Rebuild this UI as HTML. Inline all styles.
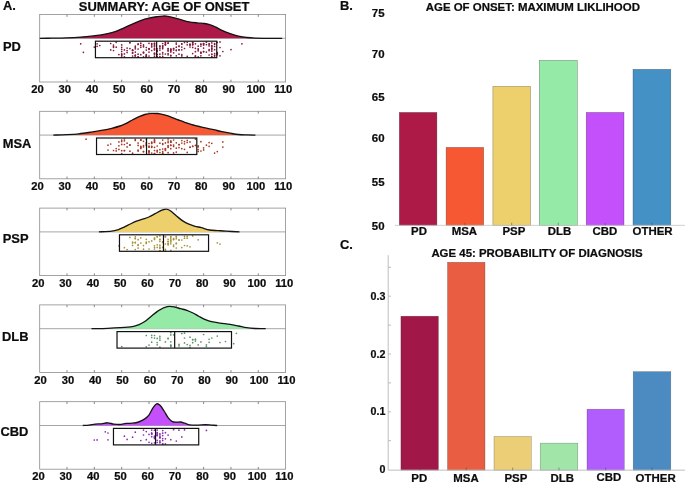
<!DOCTYPE html>
<html lang="en"><head><meta charset="utf-8"><title>Age of onset summary</title>
<style>html,body{margin:0;padding:0;background:#fff;}body{width:685px;height:484px;overflow:hidden;font-family:"Liberation Sans", sans-serif;}svg{display:block;will-change:transform;}text{font-family:"Liberation Sans", sans-serif;font-weight:bold;fill:#0c0c0c;stroke:#0c0c0c;stroke-width:0.22px;}</style></head><body>
<svg width="685" height="484" viewBox="0 0 685 484" role="img" aria-label="Age of onset summary figure">
<rect x="0" y="0" width="685" height="484" fill="#ffffff"/>
<text x="2.9" y="9.9" font-size="12.9">A.</text>
<text x="340.0" y="10.3" font-size="12.9">B.</text>
<text x="340.0" y="248.8" font-size="12.9">C.</text>
<text x="164.05" y="10.9" font-size="12.95" text-anchor="middle">SUMMARY: AGE OF ONSET</text>
<text x="532.85" y="11.0" font-size="11.45" text-anchor="middle">AGE OF ONSET: MAXIMUM LIKLIHOOD</text>
<text x="536.95" y="257.1" font-size="11.43" text-anchor="middle">AGE 45: PROBABILITY OF DIAGNOSIS</text>
<g>
<line x1="39.70" y1="38.30" x2="285.60" y2="38.30" stroke="#9c9c9c" stroke-width="0.9"/>
<path d="M39.50,38.30 C41.58,38.28 47.53,38.27 52.00,38.20 C56.47,38.13 61.51,38.08 66.30,37.90 C71.09,37.72 75.93,37.47 80.75,37.10 C85.57,36.73 90.73,36.28 95.20,35.70 C99.67,35.12 104.15,34.33 107.60,33.60 C111.05,32.87 113.15,32.27 115.90,31.30 C118.65,30.33 121.35,29.00 124.10,27.80 C126.85,26.60 129.65,25.30 132.40,24.10 C135.15,22.90 137.85,21.60 140.60,20.60 C143.35,19.60 146.15,18.75 148.90,18.10 C151.65,17.45 154.70,17.04 157.10,16.70 C159.50,16.36 161.78,16.15 163.30,16.05 C164.82,15.95 164.68,15.89 166.20,16.10 C167.72,16.31 170.00,16.72 172.40,17.30 C174.80,17.88 177.85,18.85 180.60,19.60 C183.35,20.35 186.13,21.25 188.90,21.80 C191.67,22.35 194.62,22.62 197.20,22.90 C199.78,23.18 202.33,23.20 204.40,23.50 C206.47,23.80 207.70,24.08 209.60,24.70 C211.50,25.32 213.75,26.27 215.80,27.20 C217.85,28.13 219.50,29.23 221.90,30.30 C224.30,31.37 227.43,32.63 230.20,33.60 C232.97,34.57 235.75,35.45 238.50,36.10 C241.25,36.75 243.95,37.17 246.70,37.50 C249.45,37.83 251.45,37.97 255.00,38.10 C258.55,38.23 263.47,38.27 268.00,38.30 C272.53,38.33 279.83,38.30 282.20,38.30 L282.20,38.30 L39.50,38.30 Z" fill="#ad1a48"/>
<path d="M39.50,38.30 C41.58,38.28 47.53,38.27 52.00,38.20 C56.47,38.13 61.51,38.08 66.30,37.90 C71.09,37.72 75.93,37.47 80.75,37.10 C85.57,36.73 90.73,36.28 95.20,35.70 C99.67,35.12 104.15,34.33 107.60,33.60 C111.05,32.87 113.15,32.27 115.90,31.30 C118.65,30.33 121.35,29.00 124.10,27.80 C126.85,26.60 129.65,25.30 132.40,24.10 C135.15,22.90 137.85,21.60 140.60,20.60 C143.35,19.60 146.15,18.75 148.90,18.10 C151.65,17.45 154.70,17.04 157.10,16.70 C159.50,16.36 161.78,16.15 163.30,16.05 C164.82,15.95 164.68,15.89 166.20,16.10 C167.72,16.31 170.00,16.72 172.40,17.30 C174.80,17.88 177.85,18.85 180.60,19.60 C183.35,20.35 186.13,21.25 188.90,21.80 C191.67,22.35 194.62,22.62 197.20,22.90 C199.78,23.18 202.33,23.20 204.40,23.50 C206.47,23.80 207.70,24.08 209.60,24.70 C211.50,25.32 213.75,26.27 215.80,27.20 C217.85,28.13 219.50,29.23 221.90,30.30 C224.30,31.37 227.43,32.63 230.20,33.60 C232.97,34.57 235.75,35.45 238.50,36.10 C241.25,36.75 243.95,37.17 246.70,37.50 C249.45,37.83 251.45,37.97 255.00,38.10 C258.55,38.23 263.47,38.27 268.00,38.30 C272.53,38.33 279.83,38.30 282.20,38.30" fill="none" stroke="#141414" stroke-width="1.35" stroke-linejoin="round" stroke-linecap="butt"/>
<g fill="#84183a"><circle cx="151.7" cy="43.5" r="0.85"/><circle cx="135.3" cy="52.1" r="0.85"/><circle cx="176.3" cy="55.8" r="0.85"/><circle cx="124.4" cy="53.9" r="0.85"/><circle cx="168.1" cy="53.5" r="0.85"/><circle cx="154.5" cy="49.4" r="0.85"/><circle cx="121.7" cy="44.9" r="0.85"/><circle cx="165.4" cy="54.0" r="0.85"/><circle cx="116.2" cy="47.2" r="0.85"/><circle cx="159.9" cy="54.2" r="0.85"/><circle cx="124.4" cy="56.8" r="0.85"/><circle cx="127.1" cy="48.1" r="0.85"/><circle cx="159.9" cy="48.2" r="0.85"/><circle cx="195.4" cy="56.4" r="0.85"/><circle cx="132.6" cy="53.1" r="0.85"/><circle cx="143.5" cy="44.8" r="0.85"/><circle cx="176.3" cy="44.1" r="0.85"/><circle cx="209.1" cy="44.5" r="0.85"/><circle cx="170.8" cy="55.8" r="0.85"/><circle cx="157.2" cy="54.3" r="0.85"/><circle cx="214.6" cy="44.4" r="0.85"/><circle cx="118.9" cy="54.6" r="0.85"/><circle cx="198.2" cy="56.9" r="0.85"/><circle cx="149.0" cy="52.1" r="0.85"/><circle cx="135.3" cy="47.5" r="0.85"/><circle cx="132.6" cy="50.4" r="0.85"/><circle cx="151.7" cy="44.2" r="0.85"/><circle cx="192.7" cy="42.4" r="0.85"/><circle cx="138.1" cy="56.8" r="0.85"/><circle cx="170.8" cy="51.9" r="0.85"/><circle cx="176.3" cy="50.1" r="0.85"/><circle cx="154.5" cy="56.2" r="0.85"/><circle cx="168.1" cy="48.7" r="0.85"/><circle cx="121.7" cy="55.3" r="0.85"/><circle cx="121.7" cy="54.6" r="0.85"/><circle cx="140.8" cy="45.4" r="0.85"/><circle cx="179.0" cy="46.0" r="0.85"/><circle cx="159.9" cy="46.6" r="0.85"/><circle cx="151.7" cy="45.8" r="0.85"/><circle cx="170.8" cy="51.0" r="0.85"/><circle cx="162.7" cy="46.1" r="0.85"/><circle cx="149.0" cy="48.5" r="0.85"/><circle cx="190.0" cy="44.2" r="0.85"/><circle cx="181.8" cy="55.9" r="0.85"/><circle cx="146.3" cy="47.5" r="0.85"/><circle cx="170.8" cy="49.1" r="0.85"/><circle cx="168.1" cy="51.0" r="0.85"/><circle cx="200.9" cy="55.8" r="0.85"/><circle cx="184.5" cy="48.5" r="0.85"/><circle cx="149.0" cy="56.0" r="0.85"/><circle cx="214.6" cy="49.7" r="0.85"/><circle cx="132.6" cy="50.2" r="0.85"/><circle cx="159.9" cy="50.1" r="0.85"/><circle cx="187.2" cy="42.5" r="0.85"/><circle cx="135.3" cy="48.8" r="0.85"/><circle cx="165.4" cy="44.9" r="0.85"/><circle cx="116.2" cy="42.3" r="0.85"/><circle cx="179.0" cy="54.2" r="0.85"/><circle cx="187.2" cy="44.8" r="0.85"/><circle cx="170.8" cy="49.3" r="0.85"/><circle cx="200.9" cy="53.1" r="0.85"/><circle cx="151.7" cy="50.5" r="0.85"/><circle cx="181.8" cy="47.1" r="0.85"/><circle cx="173.6" cy="50.0" r="0.85"/><circle cx="170.8" cy="50.5" r="0.85"/><circle cx="162.7" cy="54.0" r="0.85"/><circle cx="195.4" cy="43.8" r="0.85"/><circle cx="209.1" cy="50.6" r="0.85"/><circle cx="162.7" cy="45.9" r="0.85"/><circle cx="179.0" cy="46.4" r="0.85"/><circle cx="121.7" cy="53.8" r="0.85"/><circle cx="181.8" cy="49.8" r="0.85"/><circle cx="176.3" cy="50.6" r="0.85"/><circle cx="217.3" cy="53.6" r="0.85"/><circle cx="195.4" cy="55.9" r="0.85"/><circle cx="149.0" cy="48.8" r="0.85"/><circle cx="157.2" cy="51.4" r="0.85"/><circle cx="179.0" cy="49.8" r="0.85"/><circle cx="110.7" cy="49.9" r="0.85"/><circle cx="162.7" cy="52.6" r="0.85"/><circle cx="138.1" cy="49.0" r="0.85"/><circle cx="132.6" cy="50.2" r="0.85"/><circle cx="121.7" cy="49.4" r="0.85"/><circle cx="187.2" cy="56.3" r="0.85"/><circle cx="132.6" cy="52.7" r="0.85"/><circle cx="146.3" cy="55.3" r="0.85"/><circle cx="157.2" cy="56.3" r="0.85"/><circle cx="200.9" cy="46.1" r="0.85"/><circle cx="127.1" cy="50.6" r="0.85"/><circle cx="162.7" cy="56.3" r="0.85"/><circle cx="168.1" cy="54.8" r="0.85"/><circle cx="200.9" cy="44.3" r="0.85"/><circle cx="192.7" cy="44.0" r="0.85"/><circle cx="198.2" cy="48.8" r="0.85"/><circle cx="149.0" cy="43.3" r="0.85"/><circle cx="159.9" cy="45.8" r="0.85"/><circle cx="154.5" cy="43.3" r="0.85"/><circle cx="200.9" cy="52.2" r="0.85"/><circle cx="211.8" cy="54.0" r="0.85"/><circle cx="135.3" cy="55.7" r="0.85"/><circle cx="138.1" cy="44.5" r="0.85"/><circle cx="143.5" cy="52.9" r="0.85"/><circle cx="143.5" cy="52.1" r="0.85"/><circle cx="165.4" cy="44.3" r="0.85"/><circle cx="170.8" cy="55.4" r="0.85"/><circle cx="146.3" cy="56.7" r="0.85"/><circle cx="99.8" cy="45.5" r="0.85"/><circle cx="159.9" cy="56.5" r="0.85"/><circle cx="154.5" cy="48.2" r="0.85"/><circle cx="170.8" cy="49.5" r="0.85"/><circle cx="211.8" cy="57.0" r="0.85"/><circle cx="181.8" cy="54.7" r="0.85"/><circle cx="165.4" cy="44.6" r="0.85"/><circle cx="173.6" cy="48.7" r="0.85"/><circle cx="179.0" cy="49.9" r="0.85"/><circle cx="121.7" cy="47.3" r="0.85"/><circle cx="203.6" cy="45.1" r="0.85"/><circle cx="190.0" cy="47.0" r="0.85"/><circle cx="200.9" cy="53.0" r="0.85"/><circle cx="192.7" cy="42.5" r="0.85"/><circle cx="157.2" cy="50.5" r="0.85"/><circle cx="157.2" cy="48.8" r="0.85"/><circle cx="129.9" cy="42.5" r="0.85"/><circle cx="176.3" cy="47.2" r="0.85"/><circle cx="121.7" cy="51.6" r="0.85"/><circle cx="124.4" cy="49.9" r="0.85"/><circle cx="140.8" cy="43.2" r="0.85"/><circle cx="138.1" cy="57.0" r="0.85"/><circle cx="154.5" cy="54.0" r="0.85"/><circle cx="121.7" cy="56.8" r="0.85"/><circle cx="97.1" cy="43.8" r="0.85"/><circle cx="135.3" cy="46.2" r="0.85"/><circle cx="129.9" cy="42.8" r="0.85"/><circle cx="154.5" cy="53.9" r="0.85"/><circle cx="113.5" cy="46.3" r="0.85"/><circle cx="200.9" cy="44.1" r="0.85"/><circle cx="173.6" cy="48.5" r="0.85"/><circle cx="135.3" cy="55.9" r="0.85"/><circle cx="146.3" cy="54.5" r="0.85"/><circle cx="154.5" cy="46.1" r="0.85"/><circle cx="154.5" cy="44.4" r="0.85"/><circle cx="132.6" cy="56.0" r="0.85"/><circle cx="198.2" cy="50.8" r="0.85"/><circle cx="217.3" cy="52.7" r="0.85"/><circle cx="162.7" cy="43.5" r="0.85"/><circle cx="165.4" cy="43.1" r="0.85"/><circle cx="127.1" cy="52.5" r="0.85"/><circle cx="129.9" cy="48.6" r="0.85"/><circle cx="154.5" cy="43.3" r="0.85"/><circle cx="146.3" cy="56.3" r="0.85"/><circle cx="195.4" cy="51.7" r="0.85"/><circle cx="138.1" cy="54.2" r="0.85"/><circle cx="110.7" cy="43.5" r="0.85"/><circle cx="209.1" cy="55.0" r="0.85"/><circle cx="168.1" cy="43.2" r="0.85"/><circle cx="135.3" cy="55.1" r="0.85"/><circle cx="168.1" cy="49.0" r="0.85"/><circle cx="113.5" cy="47.3" r="0.85"/><circle cx="168.1" cy="50.5" r="0.85"/><circle cx="214.6" cy="56.1" r="0.85"/><circle cx="198.2" cy="46.2" r="0.85"/><circle cx="181.8" cy="44.1" r="0.85"/><circle cx="146.3" cy="50.1" r="0.85"/><circle cx="154.5" cy="45.8" r="0.85"/><circle cx="138.1" cy="43.8" r="0.85"/><circle cx="190.0" cy="44.6" r="0.85"/><circle cx="168.1" cy="43.0" r="0.85"/><circle cx="190.0" cy="45.2" r="0.85"/><circle cx="151.7" cy="46.9" r="0.85"/><circle cx="143.5" cy="46.8" r="0.85"/><circle cx="192.7" cy="53.6" r="0.85"/><circle cx="214.6" cy="46.5" r="0.85"/><circle cx="198.2" cy="49.7" r="0.85"/><circle cx="192.7" cy="44.9" r="0.85"/><circle cx="192.7" cy="47.4" r="0.85"/><circle cx="184.5" cy="42.5" r="0.85"/><circle cx="143.5" cy="46.0" r="0.85"/><circle cx="165.4" cy="42.4" r="0.85"/><circle cx="154.5" cy="53.2" r="0.85"/><circle cx="113.5" cy="50.5" r="0.85"/><circle cx="113.5" cy="45.0" r="0.85"/><circle cx="149.0" cy="49.3" r="0.85"/><circle cx="146.3" cy="56.2" r="0.85"/><circle cx="181.8" cy="43.8" r="0.85"/><circle cx="211.8" cy="54.5" r="0.85"/><circle cx="162.7" cy="48.7" r="0.85"/><circle cx="209.1" cy="49.6" r="0.85"/><circle cx="217.3" cy="54.7" r="0.85"/><circle cx="211.8" cy="48.1" r="0.85"/><circle cx="154.5" cy="49.8" r="0.85"/><circle cx="143.5" cy="52.5" r="0.85"/><circle cx="143.5" cy="56.9" r="0.85"/><circle cx="140.8" cy="47.3" r="0.85"/><circle cx="140.8" cy="54.7" r="0.85"/><circle cx="173.6" cy="52.8" r="0.85"/><circle cx="203.6" cy="51.7" r="0.85"/><circle cx="195.4" cy="48.3" r="0.85"/><circle cx="162.7" cy="47.4" r="0.85"/><circle cx="176.3" cy="43.0" r="0.85"/><circle cx="192.7" cy="44.1" r="0.85"/><circle cx="203.6" cy="51.6" r="0.85"/><circle cx="211.8" cy="48.7" r="0.85"/><circle cx="203.6" cy="43.5" r="0.85"/><circle cx="214.6" cy="55.3" r="0.85"/><circle cx="211.8" cy="51.2" r="0.85"/><circle cx="211.8" cy="42.9" r="0.85"/><circle cx="206.4" cy="44.6" r="0.85"/><circle cx="217.3" cy="42.3" r="0.85"/><circle cx="211.8" cy="56.6" r="0.85"/><circle cx="211.8" cy="45.9" r="0.85"/><circle cx="211.8" cy="45.5" r="0.85"/><circle cx="206.4" cy="42.2" r="0.85"/><circle cx="214.6" cy="43.5" r="0.85"/><circle cx="211.8" cy="49.7" r="0.85"/><circle cx="209.1" cy="45.9" r="0.85"/><circle cx="203.6" cy="43.6" r="0.85"/><circle cx="203.6" cy="44.4" r="0.85"/><circle cx="203.6" cy="48.1" r="0.85"/><circle cx="211.8" cy="46.8" r="0.85"/><circle cx="209.1" cy="43.5" r="0.85"/><circle cx="206.4" cy="52.1" r="0.85"/><circle cx="214.6" cy="53.7" r="0.85"/><circle cx="80.7" cy="43.8" r="0.85"/><circle cx="83.4" cy="52.3" r="0.85"/><circle cx="94.3" cy="47.1" r="0.85"/><circle cx="97.1" cy="46.3" r="0.85"/><circle cx="220.0" cy="41.9" r="0.85"/><circle cx="220.0" cy="47.5" r="0.85"/><circle cx="222.8" cy="51.5" r="0.85"/><circle cx="220.0" cy="55.8" r="0.85"/><circle cx="231.0" cy="49.6" r="0.85"/><circle cx="241.9" cy="43.8" r="0.85"/></g>
<rect x="95.44" y="41.20" width="121.31" height="16.50" fill="none" stroke="#111" stroke-width="1.2"/>
<line x1="156.64" y1="41.20" x2="156.64" y2="57.70" stroke="#111" stroke-width="1.2"/>
<rect x="39.70" y="14.50" width="245.90" height="67.50" fill="none" stroke="#8c8c8c" stroke-width="0.8"/>
<path d="M67.02,14.50 v2.3 M67.02,82.00 v-2.3 M94.34,14.50 v2.3 M94.34,82.00 v-2.3 M121.67,14.50 v2.3 M121.67,82.00 v-2.3 M148.99,14.50 v2.3 M148.99,82.00 v-2.3 M176.31,14.50 v2.3 M176.31,82.00 v-2.3 M203.63,14.50 v2.3 M203.63,82.00 v-2.3 M230.96,14.50 v2.3 M230.96,82.00 v-2.3 M258.28,14.50 v2.3 M258.28,82.00 v-2.3" stroke="#7a7a7a" stroke-width="0.9" fill="none"/>
<g><text transform="translate(37.40,93.10) scale(1.070,1)" font-size="10.5" text-anchor="middle">20</text><text transform="translate(64.72,93.10) scale(1.070,1)" font-size="10.5" text-anchor="middle">30</text><text transform="translate(92.04,93.10) scale(1.070,1)" font-size="10.5" text-anchor="middle">40</text><text transform="translate(119.37,93.10) scale(1.070,1)" font-size="10.5" text-anchor="middle">50</text><text transform="translate(146.69,93.10) scale(1.070,1)" font-size="10.5" text-anchor="middle">60</text><text transform="translate(174.01,93.10) scale(1.070,1)" font-size="10.5" text-anchor="middle">70</text><text transform="translate(201.33,93.10) scale(1.070,1)" font-size="10.5" text-anchor="middle">80</text><text transform="translate(228.66,93.10) scale(1.070,1)" font-size="10.5" text-anchor="middle">90</text><text transform="translate(255.98,93.10) scale(1.070,1)" font-size="10.5" text-anchor="middle">100</text><text transform="translate(283.30,93.10) scale(1.070,1)" font-size="10.5" text-anchor="middle">110</text></g>
<text x="3.00" y="51.00" font-size="12.9">PD</text>
</g>
<g>
<line x1="39.70" y1="135.10" x2="285.60" y2="135.10" stroke="#9c9c9c" stroke-width="0.9"/>
<path d="M53.30,135.10 C55.47,135.03 62.07,134.90 66.30,134.70 C70.53,134.50 74.57,134.32 78.70,133.90 C82.83,133.48 87.32,132.78 91.10,132.20 C94.88,131.62 97.97,131.05 101.40,130.40 C104.83,129.75 108.60,129.03 111.70,128.30 C114.80,127.57 117.58,126.83 120.00,126.00 C122.42,125.17 124.13,124.30 126.20,123.30 C128.27,122.30 130.33,121.07 132.40,120.00 C134.47,118.93 136.53,117.82 138.60,116.90 C140.67,115.98 142.73,115.08 144.80,114.50 C146.87,113.92 148.95,113.57 151.00,113.40 C153.05,113.23 155.60,113.43 157.10,113.50 C158.60,113.57 158.48,113.50 160.00,113.80 C161.52,114.10 164.13,114.67 166.20,115.30 C168.27,115.93 170.33,116.82 172.40,117.60 C174.47,118.38 176.53,119.22 178.60,120.00 C180.67,120.78 182.73,121.57 184.80,122.30 C186.87,123.03 188.93,123.78 191.00,124.40 C193.07,125.02 194.80,125.42 197.20,126.00 C199.60,126.58 202.65,127.28 205.40,127.90 C208.15,128.52 210.95,129.08 213.70,129.70 C216.45,130.32 219.15,131.02 221.90,131.60 C224.65,132.18 227.43,132.72 230.20,133.20 C232.97,133.68 235.75,134.22 238.50,134.50 C241.25,134.78 243.88,134.80 246.70,134.90 C249.52,135.00 253.95,135.07 255.40,135.10 L255.40,135.10 L53.30,135.10 Z" fill="#f65834"/>
<path d="M53.30,135.10 C55.47,135.03 62.07,134.90 66.30,134.70 C70.53,134.50 74.57,134.32 78.70,133.90 C82.83,133.48 87.32,132.78 91.10,132.20 C94.88,131.62 97.97,131.05 101.40,130.40 C104.83,129.75 108.60,129.03 111.70,128.30 C114.80,127.57 117.58,126.83 120.00,126.00 C122.42,125.17 124.13,124.30 126.20,123.30 C128.27,122.30 130.33,121.07 132.40,120.00 C134.47,118.93 136.53,117.82 138.60,116.90 C140.67,115.98 142.73,115.08 144.80,114.50 C146.87,113.92 148.95,113.57 151.00,113.40 C153.05,113.23 155.60,113.43 157.10,113.50 C158.60,113.57 158.48,113.50 160.00,113.80 C161.52,114.10 164.13,114.67 166.20,115.30 C168.27,115.93 170.33,116.82 172.40,117.60 C174.47,118.38 176.53,119.22 178.60,120.00 C180.67,120.78 182.73,121.57 184.80,122.30 C186.87,123.03 188.93,123.78 191.00,124.40 C193.07,125.02 194.80,125.42 197.20,126.00 C199.60,126.58 202.65,127.28 205.40,127.90 C208.15,128.52 210.95,129.08 213.70,129.70 C216.45,130.32 219.15,131.02 221.90,131.60 C224.65,132.18 227.43,132.72 230.20,133.20 C232.97,133.68 235.75,134.22 238.50,134.50 C241.25,134.78 243.88,134.80 246.70,134.90 C249.52,135.00 253.95,135.07 255.40,135.10" fill="none" stroke="#141414" stroke-width="1.35" stroke-linejoin="round" stroke-linecap="butt"/>
<g fill="#a63826"><circle cx="168.1" cy="147.3" r="0.85"/><circle cx="154.5" cy="142.1" r="0.85"/><circle cx="140.8" cy="140.2" r="0.85"/><circle cx="162.7" cy="153.0" r="0.85"/><circle cx="129.9" cy="145.2" r="0.85"/><circle cx="176.3" cy="148.2" r="0.85"/><circle cx="168.1" cy="141.1" r="0.85"/><circle cx="157.2" cy="152.0" r="0.85"/><circle cx="151.7" cy="146.3" r="0.85"/><circle cx="168.1" cy="152.7" r="0.85"/><circle cx="154.5" cy="147.3" r="0.85"/><circle cx="184.5" cy="141.6" r="0.85"/><circle cx="170.8" cy="145.2" r="0.85"/><circle cx="159.9" cy="143.2" r="0.85"/><circle cx="176.3" cy="142.8" r="0.85"/><circle cx="108.0" cy="150.1" r="0.85"/><circle cx="165.4" cy="148.8" r="0.85"/><circle cx="173.6" cy="145.1" r="0.85"/><circle cx="168.1" cy="142.6" r="0.85"/><circle cx="192.7" cy="146.2" r="0.85"/><circle cx="162.7" cy="149.0" r="0.85"/><circle cx="124.4" cy="140.8" r="0.85"/><circle cx="116.2" cy="148.6" r="0.85"/><circle cx="162.7" cy="140.1" r="0.85"/><circle cx="192.7" cy="146.5" r="0.85"/><circle cx="149.0" cy="151.2" r="0.85"/><circle cx="151.7" cy="147.3" r="0.85"/><circle cx="118.9" cy="145.8" r="0.85"/><circle cx="110.7" cy="144.0" r="0.85"/><circle cx="157.2" cy="150.4" r="0.85"/><circle cx="138.1" cy="145.4" r="0.85"/><circle cx="140.8" cy="147.2" r="0.85"/><circle cx="151.7" cy="142.7" r="0.85"/><circle cx="121.7" cy="141.6" r="0.85"/><circle cx="190.0" cy="147.3" r="0.85"/><circle cx="184.5" cy="143.8" r="0.85"/><circle cx="124.4" cy="144.5" r="0.85"/><circle cx="157.2" cy="151.1" r="0.85"/><circle cx="170.8" cy="142.0" r="0.85"/><circle cx="154.5" cy="139.3" r="0.85"/><circle cx="176.3" cy="152.1" r="0.85"/><circle cx="179.0" cy="144.7" r="0.85"/><circle cx="138.1" cy="150.2" r="0.85"/><circle cx="170.8" cy="142.2" r="0.85"/><circle cx="138.1" cy="143.1" r="0.85"/><circle cx="165.4" cy="150.3" r="0.85"/><circle cx="151.7" cy="146.5" r="0.85"/><circle cx="179.0" cy="147.6" r="0.85"/><circle cx="121.7" cy="144.4" r="0.85"/><circle cx="184.5" cy="149.3" r="0.85"/><circle cx="143.5" cy="146.9" r="0.85"/><circle cx="116.2" cy="150.9" r="0.85"/><circle cx="162.7" cy="151.7" r="0.85"/><circle cx="135.3" cy="140.4" r="0.85"/><circle cx="159.9" cy="152.5" r="0.85"/><circle cx="146.3" cy="144.8" r="0.85"/><circle cx="165.4" cy="148.7" r="0.85"/><circle cx="168.1" cy="145.5" r="0.85"/><circle cx="162.7" cy="143.7" r="0.85"/><circle cx="129.9" cy="151.2" r="0.85"/><circle cx="154.5" cy="153.5" r="0.85"/><circle cx="154.5" cy="140.9" r="0.85"/><circle cx="195.4" cy="145.4" r="0.85"/><circle cx="124.4" cy="150.5" r="0.85"/><circle cx="138.1" cy="151.1" r="0.85"/><circle cx="154.5" cy="153.5" r="0.85"/><circle cx="168.1" cy="146.3" r="0.85"/><circle cx="140.8" cy="140.1" r="0.85"/><circle cx="151.7" cy="153.0" r="0.85"/><circle cx="173.6" cy="152.9" r="0.85"/><circle cx="198.2" cy="146.9" r="0.85"/><circle cx="157.2" cy="146.0" r="0.85"/><circle cx="143.5" cy="145.7" r="0.85"/><circle cx="124.4" cy="150.7" r="0.85"/><circle cx="154.5" cy="142.4" r="0.85"/><circle cx="143.5" cy="141.3" r="0.85"/><circle cx="121.7" cy="153.6" r="0.85"/><circle cx="154.5" cy="140.6" r="0.85"/><circle cx="198.2" cy="151.4" r="0.85"/><circle cx="198.2" cy="149.5" r="0.85"/><circle cx="149.0" cy="151.7" r="0.85"/><circle cx="187.2" cy="152.4" r="0.85"/><circle cx="187.2" cy="140.3" r="0.85"/><circle cx="121.7" cy="150.7" r="0.85"/><circle cx="124.4" cy="139.0" r="0.85"/><circle cx="170.8" cy="140.9" r="0.85"/><circle cx="140.8" cy="147.5" r="0.85"/><circle cx="146.3" cy="139.6" r="0.85"/><circle cx="159.9" cy="149.7" r="0.85"/><circle cx="162.7" cy="153.4" r="0.85"/><circle cx="140.8" cy="148.4" r="0.85"/><circle cx="127.1" cy="146.9" r="0.85"/><circle cx="146.3" cy="145.6" r="0.85"/><circle cx="154.5" cy="150.5" r="0.85"/><circle cx="181.8" cy="140.5" r="0.85"/><circle cx="149.0" cy="143.5" r="0.85"/><circle cx="132.6" cy="153.2" r="0.85"/><circle cx="190.0" cy="141.9" r="0.85"/><circle cx="165.4" cy="142.9" r="0.85"/><circle cx="149.0" cy="150.9" r="0.85"/><circle cx="168.1" cy="139.0" r="0.85"/><circle cx="149.0" cy="147.1" r="0.85"/><circle cx="149.0" cy="153.9" r="0.85"/><circle cx="127.1" cy="143.2" r="0.85"/><circle cx="146.3" cy="143.7" r="0.85"/><circle cx="143.5" cy="151.6" r="0.85"/><circle cx="146.3" cy="142.6" r="0.85"/><circle cx="149.0" cy="146.9" r="0.85"/><circle cx="190.0" cy="147.2" r="0.85"/><circle cx="135.3" cy="139.4" r="0.85"/><circle cx="108.0" cy="145.2" r="0.85"/><circle cx="170.8" cy="148.7" r="0.85"/><circle cx="140.8" cy="139.8" r="0.85"/><circle cx="118.9" cy="141.9" r="0.85"/><circle cx="149.0" cy="152.3" r="0.85"/><circle cx="181.8" cy="148.7" r="0.85"/><circle cx="121.7" cy="140.2" r="0.85"/><circle cx="187.2" cy="142.4" r="0.85"/><circle cx="170.8" cy="145.4" r="0.85"/><circle cx="179.0" cy="144.6" r="0.85"/><circle cx="140.8" cy="146.4" r="0.85"/><circle cx="118.9" cy="149.4" r="0.85"/><circle cx="165.4" cy="149.8" r="0.85"/><circle cx="162.7" cy="144.4" r="0.85"/><circle cx="129.9" cy="144.9" r="0.85"/><circle cx="195.4" cy="139.1" r="0.85"/><circle cx="151.7" cy="143.4" r="0.85"/><circle cx="143.5" cy="151.7" r="0.85"/><circle cx="173.6" cy="140.0" r="0.85"/><circle cx="173.6" cy="146.4" r="0.85"/><circle cx="151.7" cy="142.0" r="0.85"/><circle cx="113.5" cy="150.5" r="0.85"/><circle cx="170.8" cy="141.9" r="0.85"/><circle cx="149.0" cy="146.0" r="0.85"/><circle cx="181.8" cy="143.0" r="0.85"/><circle cx="86.1" cy="139.2" r="0.85"/><circle cx="200.9" cy="141.7" r="0.85"/><circle cx="203.6" cy="147.8" r="0.85"/><circle cx="203.6" cy="149.9" r="0.85"/><circle cx="206.4" cy="145.2" r="0.85"/><circle cx="209.1" cy="142.6" r="0.85"/><circle cx="209.1" cy="146.3" r="0.85"/><circle cx="211.8" cy="143.3" r="0.85"/><circle cx="214.6" cy="153.1" r="0.85"/><circle cx="217.3" cy="151.6" r="0.85"/><circle cx="222.8" cy="141.9" r="0.85"/><circle cx="222.8" cy="147.1" r="0.85"/><circle cx="198.2" cy="145.8" r="0.85"/><circle cx="200.9" cy="151.0" r="0.85"/></g>
<rect x="96.53" y="138.00" width="100.27" height="16.50" fill="none" stroke="#111" stroke-width="1.2"/>
<line x1="146.53" y1="138.00" x2="146.53" y2="154.50" stroke="#111" stroke-width="1.2"/>
<rect x="39.70" y="111.30" width="245.90" height="67.50" fill="none" stroke="#8c8c8c" stroke-width="0.8"/>
<path d="M67.02,111.30 v2.3 M67.02,178.80 v-2.3 M94.34,111.30 v2.3 M94.34,178.80 v-2.3 M121.67,111.30 v2.3 M121.67,178.80 v-2.3 M148.99,111.30 v2.3 M148.99,178.80 v-2.3 M176.31,111.30 v2.3 M176.31,178.80 v-2.3 M203.63,111.30 v2.3 M203.63,178.80 v-2.3 M230.96,111.30 v2.3 M230.96,178.80 v-2.3 M258.28,111.30 v2.3 M258.28,178.80 v-2.3" stroke="#7a7a7a" stroke-width="0.9" fill="none"/>
<g><text transform="translate(37.40,189.90) scale(1.070,1)" font-size="10.5" text-anchor="middle">20</text><text transform="translate(64.72,189.90) scale(1.070,1)" font-size="10.5" text-anchor="middle">30</text><text transform="translate(92.04,189.90) scale(1.070,1)" font-size="10.5" text-anchor="middle">40</text><text transform="translate(119.37,189.90) scale(1.070,1)" font-size="10.5" text-anchor="middle">50</text><text transform="translate(146.69,189.90) scale(1.070,1)" font-size="10.5" text-anchor="middle">60</text><text transform="translate(174.01,189.90) scale(1.070,1)" font-size="10.5" text-anchor="middle">70</text><text transform="translate(201.33,189.90) scale(1.070,1)" font-size="10.5" text-anchor="middle">80</text><text transform="translate(228.66,189.90) scale(1.070,1)" font-size="10.5" text-anchor="middle">90</text><text transform="translate(255.98,189.90) scale(1.070,1)" font-size="10.5" text-anchor="middle">100</text><text transform="translate(283.30,189.90) scale(1.070,1)" font-size="10.5" text-anchor="middle">110</text></g>
<text x="2.70" y="148.35" font-size="12.9">MSA</text>
</g>
<g>
<line x1="39.70" y1="231.90" x2="285.60" y2="231.90" stroke="#9c9c9c" stroke-width="0.9"/>
<path d="M98.90,231.90 C101.03,231.78 108.53,231.55 111.70,231.20 C114.87,230.85 115.83,230.48 117.90,229.80 C119.97,229.12 122.03,228.07 124.10,227.10 C126.17,226.13 128.23,225.00 130.30,224.00 C132.37,223.00 134.43,221.92 136.50,221.10 C138.57,220.28 140.63,219.78 142.70,219.10 C144.77,218.42 146.83,217.90 148.90,217.00 C150.97,216.10 153.03,214.80 155.10,213.70 C157.17,212.60 159.73,211.12 161.30,210.40 C162.87,209.68 163.62,209.60 164.50,209.40 C165.38,209.20 165.63,208.97 166.60,209.20 C167.57,209.43 168.65,209.67 170.30,210.80 C171.95,211.93 174.43,214.32 176.50,216.00 C178.57,217.68 180.63,219.53 182.70,220.90 C184.77,222.27 186.83,223.30 188.90,224.20 C190.97,225.10 193.03,225.72 195.10,226.30 C197.17,226.88 198.88,227.08 201.30,227.70 C203.72,228.32 206.85,229.52 209.60,230.00 C212.35,230.48 215.05,230.40 217.80,230.60 C220.55,230.80 222.48,230.98 226.10,231.20 C229.72,231.42 237.27,231.78 239.50,231.90 L239.50,231.90 L98.90,231.90 Z" fill="#edcf6b"/>
<path d="M98.90,231.90 C101.03,231.78 108.53,231.55 111.70,231.20 C114.87,230.85 115.83,230.48 117.90,229.80 C119.97,229.12 122.03,228.07 124.10,227.10 C126.17,226.13 128.23,225.00 130.30,224.00 C132.37,223.00 134.43,221.92 136.50,221.10 C138.57,220.28 140.63,219.78 142.70,219.10 C144.77,218.42 146.83,217.90 148.90,217.00 C150.97,216.10 153.03,214.80 155.10,213.70 C157.17,212.60 159.73,211.12 161.30,210.40 C162.87,209.68 163.62,209.60 164.50,209.40 C165.38,209.20 165.63,208.97 166.60,209.20 C167.57,209.43 168.65,209.67 170.30,210.80 C171.95,211.93 174.43,214.32 176.50,216.00 C178.57,217.68 180.63,219.53 182.70,220.90 C184.77,222.27 186.83,223.30 188.90,224.20 C190.97,225.10 193.03,225.72 195.10,226.30 C197.17,226.88 198.88,227.08 201.30,227.70 C203.72,228.32 206.85,229.52 209.60,230.00 C212.35,230.48 215.05,230.40 217.80,230.60 C220.55,230.80 222.48,230.98 226.10,231.20 C229.72,231.42 237.27,231.78 239.50,231.90" fill="none" stroke="#141414" stroke-width="1.35" stroke-linejoin="round" stroke-linecap="butt"/>
<g fill="#a89238"><circle cx="181.8" cy="247.6" r="0.85"/><circle cx="138.1" cy="244.7" r="0.85"/><circle cx="168.1" cy="243.5" r="0.85"/><circle cx="168.1" cy="241.7" r="0.85"/><circle cx="184.5" cy="238.2" r="0.85"/><circle cx="162.7" cy="241.9" r="0.85"/><circle cx="184.5" cy="245.5" r="0.85"/><circle cx="132.6" cy="243.0" r="0.85"/><circle cx="165.4" cy="244.0" r="0.85"/><circle cx="187.2" cy="238.2" r="0.85"/><circle cx="132.6" cy="242.2" r="0.85"/><circle cx="129.9" cy="237.4" r="0.85"/><circle cx="165.4" cy="236.9" r="0.85"/><circle cx="159.9" cy="245.2" r="0.85"/><circle cx="170.8" cy="238.9" r="0.85"/><circle cx="146.3" cy="242.1" r="0.85"/><circle cx="159.9" cy="250.6" r="0.85"/><circle cx="170.8" cy="250.4" r="0.85"/><circle cx="154.5" cy="238.4" r="0.85"/><circle cx="140.8" cy="237.8" r="0.85"/><circle cx="135.3" cy="242.7" r="0.85"/><circle cx="143.5" cy="249.2" r="0.85"/><circle cx="146.3" cy="239.3" r="0.85"/><circle cx="168.1" cy="243.9" r="0.85"/><circle cx="162.7" cy="247.4" r="0.85"/><circle cx="159.9" cy="247.2" r="0.85"/><circle cx="154.5" cy="247.5" r="0.85"/><circle cx="170.8" cy="240.2" r="0.85"/><circle cx="179.0" cy="240.0" r="0.85"/><circle cx="198.2" cy="239.8" r="0.85"/><circle cx="159.9" cy="239.6" r="0.85"/><circle cx="138.1" cy="239.7" r="0.85"/><circle cx="135.3" cy="242.4" r="0.85"/><circle cx="135.3" cy="238.6" r="0.85"/><circle cx="159.9" cy="239.3" r="0.85"/><circle cx="181.8" cy="240.0" r="0.85"/><circle cx="165.4" cy="249.4" r="0.85"/><circle cx="173.6" cy="238.6" r="0.85"/><circle cx="157.2" cy="236.8" r="0.85"/><circle cx="173.6" cy="239.6" r="0.85"/><circle cx="154.5" cy="239.5" r="0.85"/><circle cx="176.3" cy="243.7" r="0.85"/><circle cx="138.1" cy="245.5" r="0.85"/><circle cx="170.8" cy="237.3" r="0.85"/><circle cx="146.3" cy="242.8" r="0.85"/><circle cx="165.4" cy="236.4" r="0.85"/><circle cx="159.9" cy="235.9" r="0.85"/><circle cx="154.5" cy="249.0" r="0.85"/><circle cx="173.6" cy="239.3" r="0.85"/><circle cx="162.7" cy="242.5" r="0.85"/><circle cx="168.1" cy="241.4" r="0.85"/><circle cx="149.0" cy="249.0" r="0.85"/><circle cx="168.1" cy="239.3" r="0.85"/><circle cx="157.2" cy="236.6" r="0.85"/><circle cx="157.2" cy="244.8" r="0.85"/><circle cx="159.9" cy="248.2" r="0.85"/><circle cx="176.3" cy="238.7" r="0.85"/><circle cx="135.3" cy="236.9" r="0.85"/><circle cx="146.3" cy="243.5" r="0.85"/><circle cx="135.3" cy="238.5" r="0.85"/><circle cx="168.1" cy="244.8" r="0.85"/><circle cx="157.2" cy="247.4" r="0.85"/><circle cx="154.5" cy="245.8" r="0.85"/><circle cx="192.7" cy="235.9" r="0.85"/><circle cx="132.6" cy="245.4" r="0.85"/><circle cx="173.6" cy="246.4" r="0.85"/><circle cx="170.8" cy="241.0" r="0.85"/><circle cx="187.2" cy="236.4" r="0.85"/><circle cx="151.7" cy="240.9" r="0.85"/><circle cx="170.8" cy="236.5" r="0.85"/><circle cx="165.4" cy="250.8" r="0.85"/><circle cx="176.3" cy="236.4" r="0.85"/><circle cx="190.0" cy="246.8" r="0.85"/><circle cx="135.3" cy="249.5" r="0.85"/><circle cx="176.3" cy="248.0" r="0.85"/><circle cx="138.1" cy="248.1" r="0.85"/><circle cx="170.8" cy="241.9" r="0.85"/><circle cx="159.9" cy="241.4" r="0.85"/><circle cx="173.6" cy="245.1" r="0.85"/><circle cx="176.3" cy="237.0" r="0.85"/><circle cx="184.5" cy="236.3" r="0.85"/><circle cx="176.3" cy="243.2" r="0.85"/><circle cx="140.8" cy="243.1" r="0.85"/><circle cx="162.7" cy="241.9" r="0.85"/><circle cx="124.4" cy="247.7" r="0.85"/><circle cx="187.2" cy="245.8" r="0.85"/><circle cx="154.5" cy="238.1" r="0.85"/><circle cx="170.8" cy="243.8" r="0.85"/><circle cx="143.5" cy="245.6" r="0.85"/><circle cx="149.0" cy="241.8" r="0.85"/><circle cx="179.0" cy="239.9" r="0.85"/><circle cx="159.9" cy="250.6" r="0.85"/><circle cx="118.9" cy="245.9" r="0.85"/><circle cx="217.3" cy="242.8" r="0.85"/><circle cx="220.0" cy="244.1" r="0.85"/><circle cx="127.1" cy="249.6" r="0.85"/></g>
<rect x="119.48" y="234.80" width="89.07" height="16.50" fill="none" stroke="#111" stroke-width="1.2"/>
<line x1="163.47" y1="234.80" x2="163.47" y2="251.30" stroke="#111" stroke-width="1.2"/>
<rect x="39.70" y="208.10" width="245.90" height="67.50" fill="none" stroke="#8c8c8c" stroke-width="0.8"/>
<path d="M67.02,208.10 v2.3 M67.02,275.60 v-2.3 M94.34,208.10 v2.3 M94.34,275.60 v-2.3 M121.67,208.10 v2.3 M121.67,275.60 v-2.3 M148.99,208.10 v2.3 M148.99,275.60 v-2.3 M176.31,208.10 v2.3 M176.31,275.60 v-2.3 M203.63,208.10 v2.3 M203.63,275.60 v-2.3 M230.96,208.10 v2.3 M230.96,275.60 v-2.3 M258.28,208.10 v2.3 M258.28,275.60 v-2.3" stroke="#7a7a7a" stroke-width="0.9" fill="none"/>
<g><text transform="translate(38.30,286.70) scale(1.070,1)" font-size="10.5" text-anchor="middle">20</text><text transform="translate(65.62,286.70) scale(1.070,1)" font-size="10.5" text-anchor="middle">30</text><text transform="translate(92.94,286.70) scale(1.070,1)" font-size="10.5" text-anchor="middle">40</text><text transform="translate(120.27,286.70) scale(1.070,1)" font-size="10.5" text-anchor="middle">50</text><text transform="translate(147.59,286.70) scale(1.070,1)" font-size="10.5" text-anchor="middle">60</text><text transform="translate(174.91,286.70) scale(1.070,1)" font-size="10.5" text-anchor="middle">70</text><text transform="translate(202.23,286.70) scale(1.070,1)" font-size="10.5" text-anchor="middle">80</text><text transform="translate(229.56,286.70) scale(1.070,1)" font-size="10.5" text-anchor="middle">90</text><text transform="translate(256.88,286.70) scale(1.070,1)" font-size="10.5" text-anchor="middle">100</text><text transform="translate(284.20,286.70) scale(1.070,1)" font-size="10.5" text-anchor="middle">110</text></g>
<text x="2.70" y="243.30" font-size="12.9">PSP</text>
</g>
<g>
<line x1="39.70" y1="328.70" x2="285.60" y2="328.70" stroke="#9c9c9c" stroke-width="0.9"/>
<path d="M91.50,328.70 C94.18,328.63 102.85,328.47 107.60,328.30 C112.35,328.13 115.87,327.98 120.00,327.70 C124.13,327.42 129.30,327.08 132.40,326.60 C135.50,326.12 136.53,325.65 138.60,324.80 C140.67,323.95 142.73,322.88 144.80,321.50 C146.87,320.12 148.95,318.15 151.00,316.50 C153.05,314.85 155.35,312.85 157.10,311.60 C158.85,310.35 160.33,309.65 161.50,309.00 C162.67,308.35 162.80,308.13 164.10,307.70 C165.40,307.27 167.57,306.52 169.30,306.40 C171.03,306.28 172.62,306.62 174.50,307.00 C176.38,307.38 178.55,308.15 180.60,308.70 C182.65,309.25 184.73,309.58 186.80,310.30 C188.87,311.02 190.93,311.97 193.00,313.00 C195.07,314.03 197.13,315.40 199.20,316.50 C201.27,317.60 203.33,318.73 205.40,319.60 C207.47,320.47 209.18,321.12 211.60,321.70 C214.02,322.28 216.80,322.65 219.90,323.10 C223.00,323.55 227.10,323.92 230.20,324.40 C233.30,324.88 235.75,325.45 238.50,326.00 C241.25,326.55 243.95,327.28 246.70,327.70 C249.45,328.12 251.83,328.33 255.00,328.50 C258.17,328.67 263.92,328.67 265.70,328.70 L265.70,328.70 L91.50,328.70 Z" fill="#94eaa6"/>
<path d="M91.50,328.70 C94.18,328.63 102.85,328.47 107.60,328.30 C112.35,328.13 115.87,327.98 120.00,327.70 C124.13,327.42 129.30,327.08 132.40,326.60 C135.50,326.12 136.53,325.65 138.60,324.80 C140.67,323.95 142.73,322.88 144.80,321.50 C146.87,320.12 148.95,318.15 151.00,316.50 C153.05,314.85 155.35,312.85 157.10,311.60 C158.85,310.35 160.33,309.65 161.50,309.00 C162.67,308.35 162.80,308.13 164.10,307.70 C165.40,307.27 167.57,306.52 169.30,306.40 C171.03,306.28 172.62,306.62 174.50,307.00 C176.38,307.38 178.55,308.15 180.60,308.70 C182.65,309.25 184.73,309.58 186.80,310.30 C188.87,311.02 190.93,311.97 193.00,313.00 C195.07,314.03 197.13,315.40 199.20,316.50 C201.27,317.60 203.33,318.73 205.40,319.60 C207.47,320.47 209.18,321.12 211.60,321.70 C214.02,322.28 216.80,322.65 219.90,323.10 C223.00,323.55 227.10,323.92 230.20,324.40 C233.30,324.88 235.75,325.45 238.50,326.00 C241.25,326.55 243.95,327.28 246.70,327.70 C249.45,328.12 251.83,328.33 255.00,328.50 C258.17,328.67 263.92,328.67 265.70,328.70" fill="none" stroke="#141414" stroke-width="1.35" stroke-linejoin="round" stroke-linecap="butt"/>
<g fill="#5c9468"><circle cx="184.5" cy="342.9" r="0.85"/><circle cx="170.8" cy="346.0" r="0.85"/><circle cx="151.7" cy="342.2" r="0.85"/><circle cx="190.0" cy="345.4" r="0.85"/><circle cx="200.9" cy="341.9" r="0.85"/><circle cx="170.8" cy="341.8" r="0.85"/><circle cx="146.3" cy="335.5" r="0.85"/><circle cx="192.7" cy="339.7" r="0.85"/><circle cx="195.4" cy="341.1" r="0.85"/><circle cx="184.5" cy="333.2" r="0.85"/><circle cx="170.8" cy="346.7" r="0.85"/><circle cx="170.8" cy="334.9" r="0.85"/><circle cx="211.8" cy="338.0" r="0.85"/><circle cx="173.6" cy="334.8" r="0.85"/><circle cx="159.9" cy="347.2" r="0.85"/><circle cx="157.2" cy="344.8" r="0.85"/><circle cx="154.5" cy="335.5" r="0.85"/><circle cx="179.0" cy="345.9" r="0.85"/><circle cx="170.8" cy="345.2" r="0.85"/><circle cx="192.7" cy="342.7" r="0.85"/><circle cx="157.2" cy="342.6" r="0.85"/><circle cx="151.7" cy="337.5" r="0.85"/><circle cx="157.2" cy="338.4" r="0.85"/><circle cx="195.4" cy="339.4" r="0.85"/><circle cx="170.8" cy="345.3" r="0.85"/><circle cx="179.0" cy="344.3" r="0.85"/><circle cx="209.1" cy="342.3" r="0.85"/><circle cx="190.0" cy="337.2" r="0.85"/><circle cx="159.9" cy="336.3" r="0.85"/><circle cx="168.1" cy="338.4" r="0.85"/><circle cx="159.9" cy="338.1" r="0.85"/><circle cx="159.9" cy="340.2" r="0.85"/><circle cx="151.7" cy="335.3" r="0.85"/><circle cx="170.8" cy="332.7" r="0.85"/><circle cx="190.0" cy="347.4" r="0.85"/><circle cx="192.7" cy="339.6" r="0.85"/><circle cx="195.4" cy="339.3" r="0.85"/><circle cx="165.4" cy="341.9" r="0.85"/><circle cx="198.2" cy="344.9" r="0.85"/><circle cx="149.0" cy="345.1" r="0.85"/><circle cx="206.4" cy="344.8" r="0.85"/><circle cx="168.1" cy="338.6" r="0.85"/><circle cx="181.8" cy="333.6" r="0.85"/><circle cx="184.5" cy="338.0" r="0.85"/><circle cx="154.5" cy="338.1" r="0.85"/><circle cx="187.2" cy="344.6" r="0.85"/><circle cx="121.7" cy="346.6" r="0.85"/><circle cx="236.4" cy="333.3" r="0.85"/><circle cx="233.7" cy="343.7" r="0.85"/><circle cx="146.3" cy="346.8" r="0.85"/><circle cx="203.6" cy="334.5" r="0.85"/><circle cx="206.4" cy="346.3" r="0.85"/><circle cx="209.1" cy="339.3" r="0.85"/><circle cx="217.3" cy="336.1" r="0.85"/><circle cx="220.0" cy="342.5" r="0.85"/><circle cx="225.5" cy="341.5" r="0.85"/></g>
<rect x="117.02" y="331.60" width="114.48" height="16.50" fill="none" stroke="#111" stroke-width="1.2"/>
<line x1="174.67" y1="331.60" x2="174.67" y2="348.10" stroke="#111" stroke-width="1.2"/>
<rect x="39.70" y="304.90" width="245.90" height="67.50" fill="none" stroke="#8c8c8c" stroke-width="0.8"/>
<path d="M67.02,304.90 v2.3 M67.02,372.40 v-2.3 M94.34,304.90 v2.3 M94.34,372.40 v-2.3 M121.67,304.90 v2.3 M121.67,372.40 v-2.3 M148.99,304.90 v2.3 M148.99,372.40 v-2.3 M176.31,304.90 v2.3 M176.31,372.40 v-2.3 M203.63,304.90 v2.3 M203.63,372.40 v-2.3 M230.96,304.90 v2.3 M230.96,372.40 v-2.3 M258.28,304.90 v2.3 M258.28,372.40 v-2.3" stroke="#7a7a7a" stroke-width="0.9" fill="none"/>
<g><text transform="translate(40.60,383.50) scale(1.070,1)" font-size="10.5" text-anchor="middle">20</text><text transform="translate(67.92,383.50) scale(1.070,1)" font-size="10.5" text-anchor="middle">30</text><text transform="translate(95.24,383.50) scale(1.070,1)" font-size="10.5" text-anchor="middle">40</text><text transform="translate(122.57,383.50) scale(1.070,1)" font-size="10.5" text-anchor="middle">50</text><text transform="translate(149.89,383.50) scale(1.070,1)" font-size="10.5" text-anchor="middle">60</text><text transform="translate(177.21,383.50) scale(1.070,1)" font-size="10.5" text-anchor="middle">70</text><text transform="translate(204.53,383.50) scale(1.070,1)" font-size="10.5" text-anchor="middle">80</text><text transform="translate(231.86,383.50) scale(1.070,1)" font-size="10.5" text-anchor="middle">90</text><text transform="translate(259.18,383.50) scale(1.070,1)" font-size="10.5" text-anchor="middle">100</text><text transform="translate(286.50,383.50) scale(1.070,1)" font-size="10.5" text-anchor="middle">110</text></g>
<text x="2.00" y="340.90" font-size="12.9">DLB</text>
</g>
<g>
<line x1="39.70" y1="425.50" x2="285.60" y2="425.50" stroke="#9c9c9c" stroke-width="0.9"/>
<path d="M82.80,425.50 C83.83,425.43 86.93,425.33 89.00,425.10 C91.07,424.87 93.13,424.32 95.20,424.10 C97.27,423.88 99.33,424.02 101.40,423.80 C103.47,423.58 105.53,422.75 107.60,422.80 C109.67,422.85 111.73,423.82 113.80,424.10 C115.87,424.38 117.93,424.62 120.00,424.50 C122.07,424.38 124.13,423.62 126.20,423.40 C128.27,423.18 130.33,423.43 132.40,423.20 C134.47,422.97 136.53,422.72 138.60,422.00 C140.67,421.28 143.08,420.03 144.80,418.90 C146.52,417.77 147.53,417.03 148.90,415.20 C150.27,413.37 151.70,409.80 153.00,407.90 C154.30,406.00 155.50,404.20 156.70,403.80 C157.90,403.40 158.97,404.30 160.20,405.50 C161.43,406.70 162.75,408.93 164.10,411.00 C165.45,413.07 166.92,416.13 168.30,417.90 C169.68,419.67 171.03,420.88 172.40,421.60 C173.77,422.32 175.13,422.13 176.50,422.20 C177.87,422.27 179.22,421.83 180.60,422.00 C181.98,422.17 183.25,422.72 184.80,423.20 C186.35,423.68 187.83,424.58 189.90,424.90 C191.97,425.22 194.62,425.13 197.20,425.10 C199.78,425.07 203.00,424.70 205.40,424.70 C207.80,424.70 209.63,424.97 211.60,425.10 C213.57,425.23 216.27,425.43 217.20,425.50 L217.20,425.50 L82.80,425.50 Z" fill="#c350fb"/>
<path d="M82.80,425.50 C83.83,425.43 86.93,425.33 89.00,425.10 C91.07,424.87 93.13,424.32 95.20,424.10 C97.27,423.88 99.33,424.02 101.40,423.80 C103.47,423.58 105.53,422.75 107.60,422.80 C109.67,422.85 111.73,423.82 113.80,424.10 C115.87,424.38 117.93,424.62 120.00,424.50 C122.07,424.38 124.13,423.62 126.20,423.40 C128.27,423.18 130.33,423.43 132.40,423.20 C134.47,422.97 136.53,422.72 138.60,422.00 C140.67,421.28 143.08,420.03 144.80,418.90 C146.52,417.77 147.53,417.03 148.90,415.20 C150.27,413.37 151.70,409.80 153.00,407.90 C154.30,406.00 155.50,404.20 156.70,403.80 C157.90,403.40 158.97,404.30 160.20,405.50 C161.43,406.70 162.75,408.93 164.10,411.00 C165.45,413.07 166.92,416.13 168.30,417.90 C169.68,419.67 171.03,420.88 172.40,421.60 C173.77,422.32 175.13,422.13 176.50,422.20 C177.87,422.27 179.22,421.83 180.60,422.00 C181.98,422.17 183.25,422.72 184.80,423.20 C186.35,423.68 187.83,424.58 189.90,424.90 C191.97,425.22 194.62,425.13 197.20,425.10 C199.78,425.07 203.00,424.70 205.40,424.70 C207.80,424.70 209.63,424.97 211.60,425.10 C213.57,425.23 216.27,425.43 217.20,425.50" fill="none" stroke="#141414" stroke-width="1.35" stroke-linejoin="round" stroke-linecap="butt"/>
<g fill="#8a2cb0"><circle cx="157.2" cy="433.4" r="0.85"/><circle cx="159.9" cy="440.9" r="0.85"/><circle cx="143.5" cy="430.1" r="0.85"/><circle cx="149.0" cy="442.3" r="0.85"/><circle cx="165.4" cy="443.9" r="0.85"/><circle cx="154.5" cy="436.2" r="0.85"/><circle cx="159.9" cy="437.2" r="0.85"/><circle cx="146.3" cy="439.7" r="0.85"/><circle cx="159.9" cy="442.8" r="0.85"/><circle cx="162.7" cy="433.2" r="0.85"/><circle cx="159.9" cy="437.4" r="0.85"/><circle cx="159.9" cy="442.2" r="0.85"/><circle cx="140.8" cy="440.5" r="0.85"/><circle cx="143.5" cy="435.0" r="0.85"/><circle cx="157.2" cy="435.0" r="0.85"/><circle cx="159.9" cy="434.9" r="0.85"/><circle cx="146.3" cy="431.6" r="0.85"/><circle cx="149.0" cy="434.4" r="0.85"/><circle cx="162.7" cy="430.6" r="0.85"/><circle cx="151.7" cy="432.9" r="0.85"/><circle cx="162.7" cy="438.6" r="0.85"/><circle cx="162.7" cy="443.8" r="0.85"/><circle cx="159.9" cy="433.8" r="0.85"/><circle cx="159.9" cy="437.1" r="0.85"/><circle cx="151.7" cy="434.1" r="0.85"/><circle cx="162.7" cy="443.9" r="0.85"/><circle cx="157.2" cy="442.5" r="0.85"/><circle cx="151.7" cy="443.3" r="0.85"/><circle cx="154.5" cy="442.8" r="0.85"/><circle cx="157.2" cy="440.4" r="0.85"/><circle cx="162.7" cy="440.6" r="0.85"/><circle cx="157.2" cy="432.7" r="0.85"/><circle cx="151.7" cy="433.8" r="0.85"/><circle cx="165.4" cy="438.8" r="0.85"/><circle cx="157.2" cy="435.7" r="0.85"/><circle cx="157.2" cy="434.9" r="0.85"/><circle cx="157.2" cy="430.1" r="0.85"/><circle cx="151.7" cy="436.7" r="0.85"/><circle cx="154.5" cy="438.6" r="0.85"/><circle cx="151.7" cy="430.1" r="0.85"/><circle cx="154.5" cy="430.2" r="0.85"/><circle cx="159.9" cy="437.9" r="0.85"/><circle cx="151.7" cy="434.0" r="0.85"/><circle cx="154.5" cy="437.2" r="0.85"/><circle cx="154.5" cy="437.4" r="0.85"/><circle cx="162.7" cy="435.6" r="0.85"/><circle cx="94.3" cy="440.0" r="0.85"/><circle cx="97.1" cy="439.9" r="0.85"/><circle cx="105.3" cy="431.8" r="0.85"/><circle cx="108.0" cy="433.0" r="0.85"/><circle cx="108.0" cy="439.8" r="0.85"/><circle cx="206.4" cy="430.4" r="0.85"/><circle cx="176.3" cy="441.1" r="0.85"/><circle cx="179.0" cy="430.2" r="0.85"/><circle cx="181.8" cy="436.9" r="0.85"/><circle cx="184.5" cy="429.9" r="0.85"/><circle cx="173.6" cy="429.7" r="0.85"/><circle cx="165.4" cy="432.7" r="0.85"/><circle cx="168.1" cy="435.1" r="0.85"/><circle cx="170.8" cy="439.7" r="0.85"/><circle cx="124.4" cy="436.2" r="0.85"/><circle cx="127.1" cy="439.4" r="0.85"/><circle cx="132.6" cy="437.2" r="0.85"/><circle cx="135.3" cy="432.2" r="0.85"/></g>
<rect x="113.47" y="428.40" width="85.25" height="16.50" fill="none" stroke="#111" stroke-width="1.2"/>
<line x1="155.55" y1="428.40" x2="155.55" y2="444.90" stroke="#111" stroke-width="1.2"/>
<rect x="39.70" y="401.70" width="245.90" height="67.50" fill="none" stroke="#8c8c8c" stroke-width="0.8"/>
<path d="M67.02,401.70 v2.3 M67.02,469.20 v-2.3 M94.34,401.70 v2.3 M94.34,469.20 v-2.3 M121.67,401.70 v2.3 M121.67,469.20 v-2.3 M148.99,401.70 v2.3 M148.99,469.20 v-2.3 M176.31,401.70 v2.3 M176.31,469.20 v-2.3 M203.63,401.70 v2.3 M203.63,469.20 v-2.3 M230.96,401.70 v2.3 M230.96,469.20 v-2.3 M258.28,401.70 v2.3 M258.28,469.20 v-2.3" stroke="#7a7a7a" stroke-width="0.9" fill="none"/>
<g><text transform="translate(38.50,480.30) scale(1.070,1)" font-size="10.5" text-anchor="middle">20</text><text transform="translate(65.82,480.30) scale(1.070,1)" font-size="10.5" text-anchor="middle">30</text><text transform="translate(93.14,480.30) scale(1.070,1)" font-size="10.5" text-anchor="middle">40</text><text transform="translate(120.47,480.30) scale(1.070,1)" font-size="10.5" text-anchor="middle">50</text><text transform="translate(147.79,480.30) scale(1.070,1)" font-size="10.5" text-anchor="middle">60</text><text transform="translate(175.11,480.30) scale(1.070,1)" font-size="10.5" text-anchor="middle">70</text><text transform="translate(202.43,480.30) scale(1.070,1)" font-size="10.5" text-anchor="middle">80</text><text transform="translate(229.76,480.30) scale(1.070,1)" font-size="10.5" text-anchor="middle">90</text><text transform="translate(257.08,480.30) scale(1.070,1)" font-size="10.5" text-anchor="middle">100</text><text transform="translate(284.40,480.30) scale(1.070,1)" font-size="10.5" text-anchor="middle">110</text></g>
<text x="0.50" y="436.30" font-size="12.9">CBD</text>
</g>
<g>
<rect x="399.30" y="112.40" width="37.60" height="112.95" fill="#ad1a48" stroke="rgba(40,40,40,0.55)" stroke-width="0.5"/>
<rect x="446.10" y="147.38" width="37.60" height="77.97" fill="#f65834" stroke="rgba(40,40,40,0.55)" stroke-width="0.5"/>
<rect x="492.90" y="86.39" width="37.60" height="138.96" fill="#edcf6b" stroke="rgba(40,40,40,0.55)" stroke-width="0.5"/>
<rect x="539.30" y="60.37" width="38.00" height="164.98" fill="#94eaa6" stroke="rgba(40,40,40,0.55)" stroke-width="0.5"/>
<rect x="586.20" y="112.40" width="37.80" height="112.95" fill="#c350fb" stroke="rgba(40,40,40,0.55)" stroke-width="0.5"/>
<rect x="633.00" y="69.33" width="37.80" height="156.02" fill="#4491c6" stroke="rgba(40,40,40,0.55)" stroke-width="0.5"/>
<line x1="394.8" y1="225.35" x2="685" y2="225.35" stroke="#c4c4c4" stroke-width="0.8"/>
<line x1="418.10" y1="225.35" x2="418.10" y2="222.75" stroke="#4a4a4a" stroke-opacity="0.7" stroke-width="0.7"/>
<text transform="translate(418.95,234.60) scale(1.070,1)" font-size="10.7" text-anchor="middle">PD</text>
<line x1="464.90" y1="225.35" x2="464.90" y2="222.75" stroke="#4a4a4a" stroke-opacity="0.7" stroke-width="0.7"/>
<text transform="translate(464.35,234.60) scale(1.070,1)" font-size="10.7" text-anchor="middle">MSA</text>
<line x1="511.70" y1="225.35" x2="511.70" y2="222.75" stroke="#4a4a4a" stroke-opacity="0.7" stroke-width="0.7"/>
<text transform="translate(513.90,234.60) scale(1.070,1)" font-size="10.7" text-anchor="middle">PSP</text>
<line x1="558.30" y1="225.35" x2="558.30" y2="222.75" stroke="#4a4a4a" stroke-opacity="0.7" stroke-width="0.7"/>
<text transform="translate(559.50,234.60) scale(1.070,1)" font-size="10.7" text-anchor="middle">DLB</text>
<line x1="605.10" y1="225.35" x2="605.10" y2="222.75" stroke="#4a4a4a" stroke-opacity="0.7" stroke-width="0.7"/>
<text transform="translate(604.90,234.60) scale(1.070,1)" font-size="10.7" text-anchor="middle">CBD</text>
<line x1="651.90" y1="225.35" x2="651.90" y2="222.75" stroke="#4a4a4a" stroke-opacity="0.7" stroke-width="0.7"/>
<text transform="translate(652.60,234.60) scale(1.070,1)" font-size="10.7" text-anchor="middle">OTHER</text>
<text transform="translate(384.60,16.85) scale(1.070,1)" font-size="10.7" text-anchor="end">75</text>
<text transform="translate(384.60,57.75) scale(1.070,1)" font-size="10.7" text-anchor="end">70</text>
<text transform="translate(384.60,100.95) scale(1.070,1)" font-size="10.7" text-anchor="end">65</text>
<text transform="translate(384.60,142.20) scale(1.070,1)" font-size="10.7" text-anchor="end">60</text>
<text transform="translate(384.60,185.85) scale(1.070,1)" font-size="10.7" text-anchor="end">55</text>
<text transform="translate(384.60,230.25) scale(1.070,1)" font-size="10.7" text-anchor="end">50</text>
</g>
<g>
<rect x="400.90" y="316.20" width="37.50" height="153.95" fill="#a11848" stroke="rgba(40,40,40,0.45)" stroke-width="0.5"/>
<rect x="447.50" y="262.27" width="37.50" height="207.88" fill="#e95d42" stroke="rgba(40,40,40,0.45)" stroke-width="0.5"/>
<rect x="494.00" y="436.48" width="37.30" height="33.67" fill="#ecce76" stroke="rgba(40,40,40,0.45)" stroke-width="0.5"/>
<rect x="540.20" y="443.13" width="37.60" height="27.02" fill="#a1e5a9" stroke="rgba(40,40,40,0.45)" stroke-width="0.5"/>
<rect x="587.00" y="409.20" width="37.30" height="60.95" fill="#b15cfd" stroke="rgba(40,40,40,0.45)" stroke-width="0.5"/>
<rect x="633.20" y="371.63" width="37.60" height="98.52" fill="#4b8bc2" stroke="rgba(40,40,40,0.45)" stroke-width="0.5"/>
<path d="M388.2,255.2 V470.15 H685" fill="none" stroke="#bebebe" stroke-width="1"/>
<path d="M388.2,440.70 h2.8 M388.2,411.80 h2.8 M388.2,382.90 h2.8 M388.2,354.00 h2.8 M388.2,325.10 h2.8 M388.2,296.20 h2.8 M388.2,267.30 h2.8" stroke="#b4b4b4" stroke-width="0.9" fill="none"/>
<line x1="419.65" y1="470.15" x2="419.65" y2="467.55" stroke="#4a4a4a" stroke-opacity="0.7" stroke-width="0.7"/>
<text transform="translate(419.25,481.75) scale(1.070,1)" font-size="10.7" text-anchor="middle">PD</text>
<line x1="466.25" y1="470.15" x2="466.25" y2="467.55" stroke="#4a4a4a" stroke-opacity="0.7" stroke-width="0.7"/>
<text transform="translate(465.95,481.75) scale(1.070,1)" font-size="10.7" text-anchor="middle">MSA</text>
<line x1="512.65" y1="470.15" x2="512.65" y2="467.55" stroke="#4a4a4a" stroke-opacity="0.7" stroke-width="0.7"/>
<text transform="translate(515.90,481.75) scale(1.070,1)" font-size="10.7" text-anchor="middle">PSP</text>
<line x1="559.00" y1="470.15" x2="559.00" y2="467.55" stroke="#4a4a4a" stroke-opacity="0.7" stroke-width="0.7"/>
<text transform="translate(562.25,481.75) scale(1.070,1)" font-size="10.7" text-anchor="middle">DLB</text>
<line x1="605.65" y1="470.15" x2="605.65" y2="467.55" stroke="#4a4a4a" stroke-opacity="0.7" stroke-width="0.7"/>
<text transform="translate(608.90,480.95) scale(1.070,1)" font-size="10.7" text-anchor="middle">CBD</text>
<line x1="652.00" y1="470.15" x2="652.00" y2="467.55" stroke="#4a4a4a" stroke-opacity="0.7" stroke-width="0.7"/>
<text transform="translate(655.65,481.95) scale(1.070,1)" font-size="10.7" text-anchor="middle">OTHER</text>
<text x="385.40" y="473.15" font-size="10.7" text-anchor="end">0</text>
<text x="385.40" y="415.35" font-size="10.7" text-anchor="end">0.1</text>
<text x="385.40" y="357.55" font-size="10.7" text-anchor="end">0.2</text>
<text x="385.40" y="299.75" font-size="10.7" text-anchor="end">0.3</text>
</g>
</svg></body></html>
